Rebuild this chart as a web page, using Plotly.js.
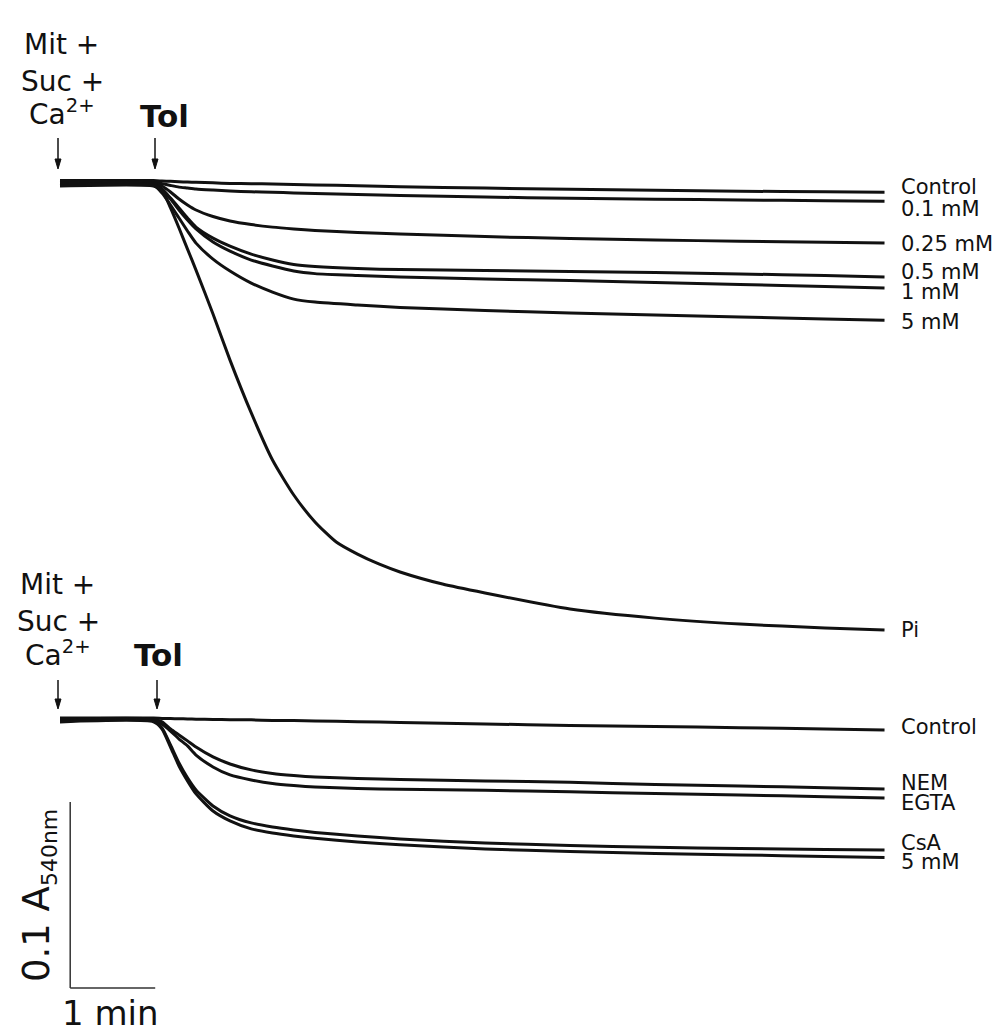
<!DOCTYPE html>
<html>
<head>
<meta charset="utf-8">
<script src="https://cdn.plot.ly/plotly-3.0.1.min.js"></script>
<style>
html,body{margin:0;padding:0;background:#fff;}
#chart{width:998px;height:1032px;}
</style>
</head>
<body>
<div id="chart"></div>
<script>
// time after Ca2+ addition (min)
var time = [0, 1.1, 1.2, 1.3, 1.4, 1.5, 1.6, 1.8, 2.0, 2.25, 2.5, 2.75, 3.0, 3.5, 4.0, 5.0, 6.0, 7.0, 8.0, 9.0, 9.7];
var piTime = [0, 1.1, 1.2, 1.3, 1.4, 1.5, 1.6, 1.8, 2.0, 2.25, 2.5, 2.75, 3.0, 3.25, 3.5, 3.75, 4.0, 4.5, 5.0, 6.0, 7.0, 8.0, 9.0, 9.7];

// Top panel: change in A540 (milli-absorbance units)
var topControl = [1.3, 1.3, 1.1, 0.9, 0.7, 0.5, 0.4, 0.1, -0.2, -0.4, -0.5, -0.8, -1.0, -1.5, -2.0, -2.7, -3.4, -3.9, -4.4, -4.7, -5.0];
var top01mM   = [0.8, 0.8, -0.3, -1.3, -2.2, -2.7, -3.2, -3.8, -4.3, -4.7, -5.0, -5.3, -5.6, -6.2, -6.7, -7.5, -8.2, -8.7, -9.1, -9.5, -9.8];
var top025mM  = [0.3, 0.3, -1.6, -4.8, -8.6, -11.8, -14.5, -18.0, -20.4, -22.3, -23.7, -24.7, -25.5, -26.6, -27.4, -28.8, -29.8, -30.6, -31.3, -31.9, -32.3];
var top05mM   = [-0.3, -0.3, -3.2, -8.1, -13.4, -18.8, -23.7, -29.6, -33.9, -38.2, -41.4, -43.8, -44.9, -46.0, -46.5, -47.0, -47.6, -48.1, -48.9, -49.7, -50.5];
var top1mM    = [-0.8, -0.8, -3.8, -8.6, -14.5, -19.9, -24.7, -31.7, -36.6, -41.4, -44.6, -47.3, -48.7, -49.7, -50.5, -51.6, -52.4, -53.5, -54.6, -55.6, -56.4];
var top5mM    = [-1.3, -1.3, -5.4, -11.8, -18.8, -25.8, -32.3, -40.9, -47.3, -53.8, -58.6, -62.4, -64.0, -65.6, -66.9, -68.5, -69.9, -71.0, -72.0, -73.1, -73.7];
var topPi     = [-1.6, -1.6, -3.8, -13.4, -24.2, -35.5, -46.8, -70.4, -95.2, -123.6, -148.9, -167.7, -182.2, -193.0, -199.5, -204.8, -209.1, -215.6, -220.4, -229.0, -233.9, -237.1, -239.2, -240.3];

// Bottom panel
var botControl = [0.5, 0.5, 0.3, 0.2, 0.1, 0, -0.1, -0.3, -0.4, -0.5, -0.8, -0.9, -1.1, -1.5, -1.9, -2.7, -3.5, -4.1, -4.7, -5.4, -5.9];
var botNEM     = [0, 0, -1.6, -5.4, -8.6, -11.8, -15.1, -20.4, -24.2, -27.4, -29.3, -30.4, -31.2, -32.0, -32.5, -33.3, -34.1, -35.2, -36.0, -37.0, -37.6];
var botEGTA    = [-0.5, -0.5, -2.7, -6.5, -10.8, -14.5, -19.4, -25.8, -30.1, -32.8, -34.7, -35.8, -36.6, -37.4, -37.8, -38.4, -39.2, -40.1, -40.9, -41.8, -42.5];
var botCsA     = [-1.1, -1.1, -4.8, -14.0, -23.7, -31.7, -38.2, -46.8, -52.1, -55.9, -58.1, -59.7, -61.0, -62.9, -64.5, -66.7, -68.0, -69.0, -69.6, -70.2, -70.4];
var bot5mM     = [-1.6, -1.6, -5.4, -15.1, -25.3, -33.3, -40.3, -49.5, -54.8, -59.1, -61.3, -62.9, -64.2, -66.1, -67.7, -69.9, -71.2, -72.3, -73.1, -73.9, -74.5];

var topLabels = ["Control", "0.1 mM", "0.25 mM", "0.5 mM", "1 mM", "5 mM", "Pi"];
var botLabels = ["Control", "NEM", "EGTA", "CsA", "5 mM"];

// scale bar: 1 min, 0.1 A (=100 mA)
var scaleTime = 1;
var scaleAbs = 100;

var W = 998, H = 1032;
function px(x){ return x / W; }
function py(y){ return 1 - y / H; }

var lineStyle = {color: '#111', width: 3, shape: 'spline', smoothing: 0.6};
var topSeries = [topControl, top01mM, top025mM, top05mM, top1mM, top5mM, topPi];
var topTimes  = [time, time, time, time, time, time, piTime];
var botSeries = [botControl, botNEM, botEGTA, botCsA, bot5mM];

var traces = [];
topSeries.forEach(function(s, i){
  traces.push({x: topTimes[i], y: s, type: 'scatter', mode: 'lines', name: topLabels[i], line: lineStyle, xaxis: 'x', yaxis: 'y', hoverinfo: 'skip'});
});
botSeries.forEach(function(s, i){
  traces.push({x: time, y: s, type: 'scatter', mode: 'lines', name: botLabels[i], line: lineStyle, xaxis: 'x', yaxis: 'y2', hoverinfo: 'skip'});
});

var F = 'DejaVu Sans, Liberation Sans, Arial, sans-serif';
var ann = [];
var shapes = [];
function txt(t, x, y, size, opts){
  var a = {text: t, x: px(x), y: py(y), xref: 'paper', yref: 'paper', showarrow: false,
           xanchor: 'center', yanchor: 'middle', font: {family: F, size: size, color: '#111'}};
  for (var k in (opts||{})) a[k] = opts[k];
  ann.push(a);
}
function arrow(x, y0, y1){
  shapes.push({type: 'line', xref: 'paper', yref: 'paper', x0: px(x), x1: px(x), y0: py(y0), y1: py(y1 - 2),
               line: {color: '#111', width: 1.5}});
  shapes.push({type: 'path', xref: 'paper', yref: 'paper',
               path: 'M ' + px(x - 3) + ' ' + py(y1 - 10) + ' L ' + px(x) + ' ' + py(y1) + ' L ' + px(x + 3) + ' ' + py(y1 - 10) + ' Z',
               fillcolor: '#111', line: {color: '#111', width: 1}});
}
// top panel annotations
txt('Mit +', 61, 45, 28);
txt('Suc +', 62, 81, 28);
txt('Ca<sup>2+</sup>', 62, 113, 28);
txt('<b>Tol</b>', 164, 116, 31);
arrow(58, 138, 169);
arrow(155, 138, 169);
// bottom panel annotations
txt('Mit +', 57, 584, 28);
txt('Suc +', 58, 621, 28);
txt('Ca<sup>2+</sup>', 58, 653, 28);
txt('<b>Tol</b>', 158, 655, 31);
arrow(58, 680, 709);
arrow(157, 680, 709);

// right labels
var topLabelY = [187, 209, 244, 272, 292, 322, 630];
topLabels.forEach(function(l, i){ txt(l, 899, topLabelY[i], 21, {xanchor: 'left'}); });
var botLabelY = [727, 783, 803, 843, 862];
botLabels.forEach(function(l, i){ txt(l, 899, botLabelY[i], 21, {xanchor: 'left'}); });

// scale bar labels
txt('1 min', 110, 1013, 34);
txt('0.1 A<sub><span style="font-size:22px">540nm</span></sub>', 38, 896, 37, {textangle: -90});

var x0 = 0.12, y0 = -144.6;
shapes.push({type: 'line', xref: 'x', yref: 'y2', x0: x0, x1: x0 + scaleTime, y0: y0, y1: y0, line: {color: '#333', width: 1.5}});
shapes.push({type: 'line', xref: 'x', yref: 'y2', x0: x0, x1: x0, y0: y0, y1: y0 + scaleAbs, line: {color: '#333', width: 1.5}});

var layout = {
  width: W, height: H,
  margin: {l: 0, r: 0, t: 0, b: 0},
  paper_bgcolor: '#fff', plot_bgcolor: '#fff',
  showlegend: false,
  xaxis: {range: [-0.7059, 11.035], visible: false, fixedrange: true},
  yaxis: {range: [-456.4, 98.4], visible: false, domain: [0, 1], fixedrange: true},
  yaxis2: {range: [-168.3, 386.5], visible: false, overlaying: 'y', fixedrange: true},
  annotations: ann,
  shapes: shapes
};

Plotly.newPlot('chart', traces, layout, {staticPlot: true, displayModeBar: false});
</script>
</body>
</html>
